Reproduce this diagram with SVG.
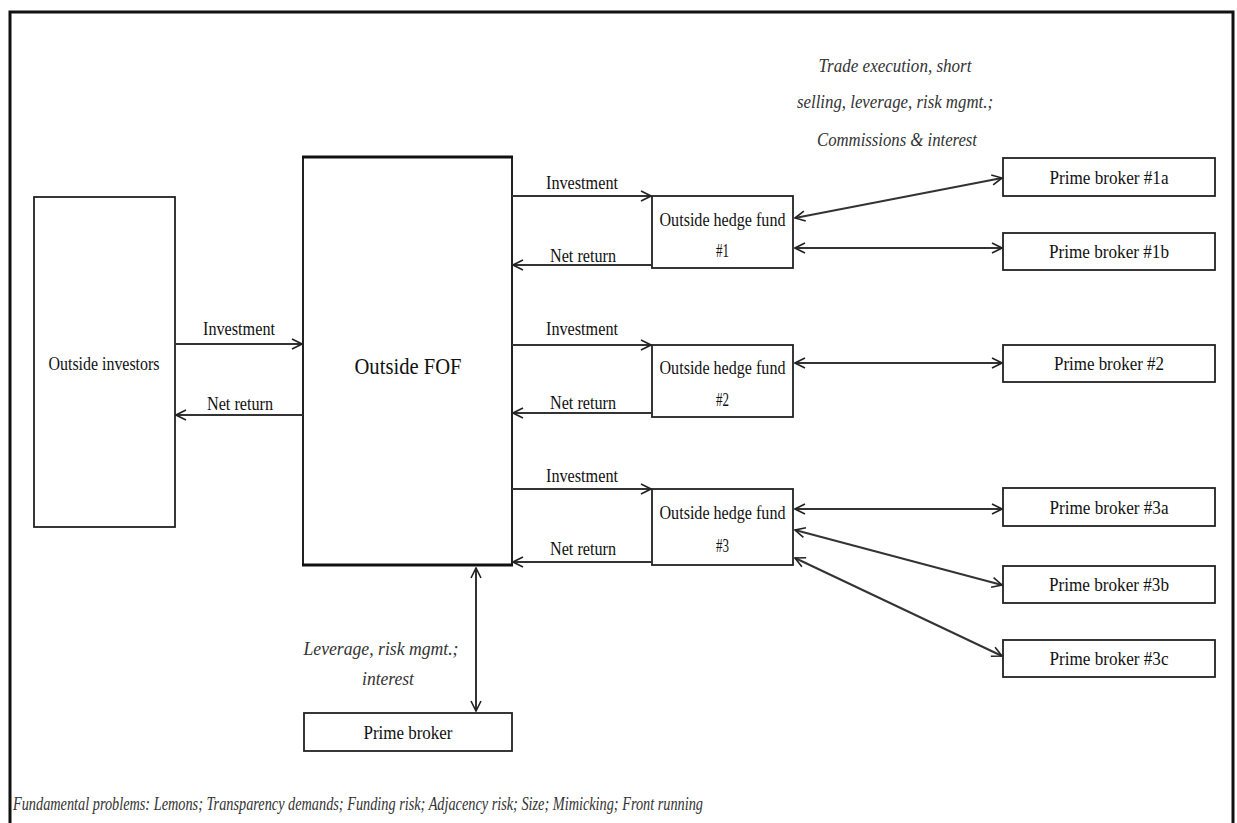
<svg xmlns="http://www.w3.org/2000/svg" width="1237" height="823" viewBox="0 0 1237 823">
<defs>
<marker id="ah" viewBox="0 0 12 12" refX="11" refY="6" markerWidth="12" markerHeight="12" markerUnits="userSpaceOnUse" orient="auto-start-reverse">
<path d="M1,1 L11,6 L1,11" fill="none" stroke="#222" stroke-width="1.6"/>
</marker>
<style>
.t{font-family:"Liberation Serif","Times New Roman",serif;font-size:18px;fill:#111;text-anchor:middle}
.it{font-family:"Liberation Serif","Times New Roman",serif;font-style:italic;font-size:18px;fill:#333;text-anchor:middle}
.box{fill:#fff;stroke:#222;stroke-width:1.8}
.c{stroke:#333;stroke-width:2;fill:none}
</style>
</defs>
<rect width="1237" height="823" fill="#fff"/>
<rect x="10" y="12" width="1223" height="830" fill="none" stroke="#111" stroke-width="3"/>

<g id="outside-investors">
<rect class="box" x="34" y="197" width="141" height="330" stroke="#555"/>
<text class="t" x="104" y="370" textLength="111" lengthAdjust="spacingAndGlyphs">Outside investors</text>
</g>

<g id="outside-fof">
<rect x="303" y="157" width="209" height="408" fill="#fff" stroke="#222" stroke-width="2"/>
<line x1="302" y1="157" x2="513" y2="157" stroke="#111" stroke-width="3"/>
<line x1="302" y1="565" x2="513" y2="565" stroke="#111" stroke-width="3"/>
<text class="t" x="408" y="374" style="font-size:24px" textLength="107" lengthAdjust="spacingAndGlyphs">Outside FOF</text>
</g>

<g id="hedge-fund-1">
<rect class="box" x="652" y="196" width="141" height="72"/>
<text class="t" x="722.5" y="226" textLength="126" lengthAdjust="spacingAndGlyphs">Outside hedge fund</text>
<text class="t" x="722.5" y="257" textLength="13" lengthAdjust="spacingAndGlyphs">#1</text>
</g>
<g id="hedge-fund-2">
<rect class="box" x="652" y="345" width="141" height="72"/>
<text class="t" x="722.5" y="374" textLength="126" lengthAdjust="spacingAndGlyphs">Outside hedge fund</text>
<text class="t" x="722.5" y="406" textLength="13" lengthAdjust="spacingAndGlyphs">#2</text>
</g>
<g id="hedge-fund-3">
<rect class="box" x="652" y="489" width="141" height="76"/>
<text class="t" x="722.5" y="519" textLength="126" lengthAdjust="spacingAndGlyphs">Outside hedge fund</text>
<text class="t" x="722.5" y="552" textLength="13" lengthAdjust="spacingAndGlyphs">#3</text>
</g>

<g id="prime-broker-1a">
<rect class="box" x="1003" y="158" width="212" height="38"/>
<text class="t" x="1109" y="184" textLength="119" lengthAdjust="spacingAndGlyphs">Prime broker #1a</text>
</g>
<g id="prime-broker-1b">
<rect class="box" x="1003" y="233" width="212" height="37"/>
<text class="t" x="1109" y="258" textLength="120" lengthAdjust="spacingAndGlyphs">Prime broker #1b</text>
</g>
<g id="prime-broker-2">
<rect class="box" x="1003" y="345" width="212" height="37"/>
<text class="t" x="1109" y="370" textLength="110" lengthAdjust="spacingAndGlyphs">Prime broker #2</text>
</g>
<g id="prime-broker-3a">
<rect class="box" x="1003" y="488" width="212" height="38"/>
<text class="t" x="1109" y="514" textLength="119" lengthAdjust="spacingAndGlyphs">Prime broker #3a</text>
</g>
<g id="prime-broker-3b">
<rect class="box" x="1003" y="566" width="212" height="37"/>
<text class="t" x="1109" y="591" textLength="120" lengthAdjust="spacingAndGlyphs">Prime broker #3b</text>
</g>
<g id="prime-broker-3c">
<rect class="box" x="1003" y="640" width="212" height="37"/>
<text class="t" x="1109" y="665" textLength="119" lengthAdjust="spacingAndGlyphs">Prime broker #3c</text>
</g>
<g id="prime-broker-fof">
<rect class="box" x="304" y="713" width="208" height="38"/>
<text class="t" x="408" y="739" textLength="89" lengthAdjust="spacingAndGlyphs">Prime broker</text>
</g>

<g id="connectors">
<line class="c" x1="175" y1="344" x2="302" y2="344" marker-end="url(#ah)"/>
<line class="c" x1="303" y1="415" x2="176" y2="415" marker-end="url(#ah)"/>
<line class="c" x1="512" y1="196" x2="651" y2="196" marker-end="url(#ah)"/>
<line class="c" x1="652" y1="265" x2="513" y2="265" marker-end="url(#ah)"/>
<line class="c" x1="512" y1="345" x2="651" y2="345" marker-end="url(#ah)"/>
<line class="c" x1="652" y1="413" x2="513" y2="413" marker-end="url(#ah)"/>
<line class="c" x1="512" y1="489" x2="651" y2="489" marker-end="url(#ah)"/>
<line class="c" x1="652" y1="562" x2="513" y2="562" marker-end="url(#ah)"/>
<line class="c" x1="795" y1="218" x2="1002" y2="178" marker-start="url(#ah)" marker-end="url(#ah)"/>
<line class="c" x1="795" y1="248" x2="1002" y2="248" marker-start="url(#ah)" marker-end="url(#ah)"/>
<line class="c" x1="795" y1="363" x2="1002" y2="363" marker-start="url(#ah)" marker-end="url(#ah)"/>
<line class="c" x1="795" y1="509" x2="1002" y2="509" marker-start="url(#ah)" marker-end="url(#ah)"/>
<line class="c" x1="795" y1="530" x2="1002" y2="585" marker-start="url(#ah)" marker-end="url(#ah)"/>
<line class="c" x1="795" y1="558" x2="1002" y2="656" marker-start="url(#ah)" marker-end="url(#ah)"/>
<line class="c" x1="476" y1="568" x2="476" y2="711" marker-start="url(#ah)" marker-end="url(#ah)"/>
</g>

<g id="labels">
<text class="t" x="239" y="335" textLength="72" lengthAdjust="spacingAndGlyphs">Investment</text>
<text class="t" x="240" y="410" textLength="66" lengthAdjust="spacingAndGlyphs">Net return</text>
<text class="t" x="582" y="189" textLength="72" lengthAdjust="spacingAndGlyphs">Investment</text>
<text class="t" x="583" y="262" textLength="66" lengthAdjust="spacingAndGlyphs">Net return</text>
<text class="t" x="582" y="335" textLength="72" lengthAdjust="spacingAndGlyphs">Investment</text>
<text class="t" x="583" y="409" textLength="66" lengthAdjust="spacingAndGlyphs">Net return</text>
<text class="t" x="582" y="482" textLength="72" lengthAdjust="spacingAndGlyphs">Investment</text>
<text class="t" x="583" y="555" textLength="66" lengthAdjust="spacingAndGlyphs">Net return</text>
<text class="it" x="895" y="72" textLength="153" lengthAdjust="spacingAndGlyphs">Trade execution, short</text>
<text class="it" x="895" y="108" textLength="196" lengthAdjust="spacingAndGlyphs">selling, leverage, risk mgmt.;</text>
<text class="it" x="897" y="146" textLength="160" lengthAdjust="spacingAndGlyphs">Commissions &amp; interest</text>
<text class="it" x="381" y="655" textLength="155" lengthAdjust="spacingAndGlyphs">Leverage, risk mgmt.;</text>
<text class="it" x="388" y="685" textLength="52" lengthAdjust="spacingAndGlyphs">interest</text>
<text class="it" x="13" y="810" style="text-anchor:start" textLength="690" lengthAdjust="spacingAndGlyphs">Fundamental problems: Lemons; Transparency demands; Funding risk; Adjacency risk; Size; Mimicking; Front running</text>
</g>
</svg>
